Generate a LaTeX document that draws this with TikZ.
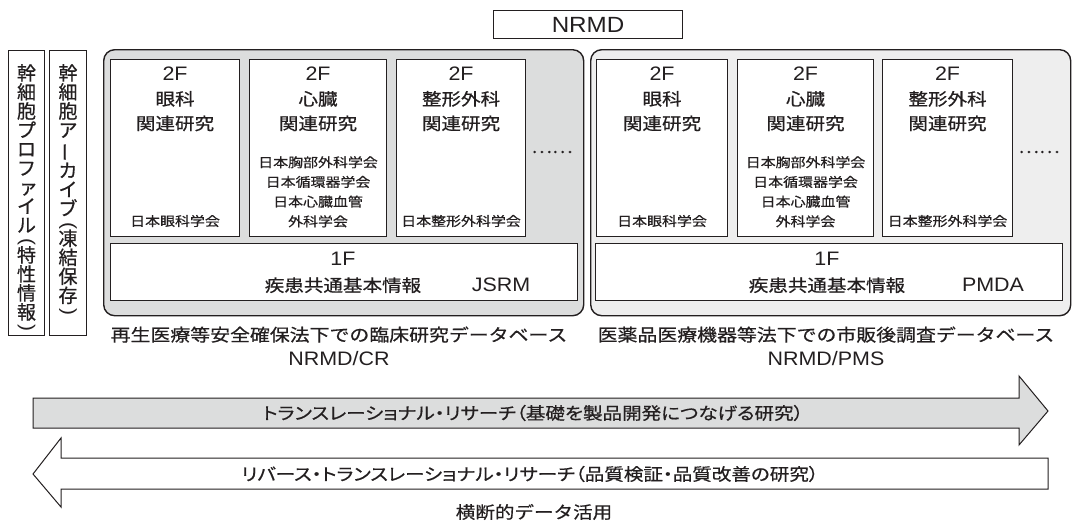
\documentclass[tikz,border=0pt]{standalone}
\usepackage{fontspec}
\usepackage{graphicx}
\setmainfont{Noto Sans CJK JP}[FakeStretch=1.15,FakeBold=0.6]
\newfontfamily\lat{Liberation Sans}[FakeStretch=1.1]
\newfontfamily\jpp{Noto Sans CJK JP}[FakeStretch=1.15,RawFeature=+palt,FakeBold=0.6]
\newfontfamily\jpv{Noto Sans CJK JP}[FakeBold=0.6]
\definecolor{ink}{HTML}{231F20}
\definecolor{lgA}{HTML}{DCDDDD}
\definecolor{lgB}{HTML}{EEEEEE}
\newcommand{\LF}[1]{{\lat\fontsize{19.5}{24.5}\selectfont #1}}
\newcommand{\vpar}[1]{\rotatebox[origin=c]{-90}{\lat #1}}
\newcommand{\vbar}{\rotatebox[origin=c]{90}{ー}}
\newcommand{\sk}[1]{\makebox[1em][l]{\hspace{0.1em}#1}}
\tikzset{
  outerbox/.style={draw=ink, line width=1.4pt, rounded corners=11pt, anchor=north west, inner sep=0pt},
  ibox/.style={draw=ink, line width=1.1pt, fill=white, anchor=north west, inner sep=0pt},
  vbox/.style={draw=ink, line width=1pt, fill=white, anchor=north west, inner sep=0pt, minimum height=285pt},
  ttl/.style={font=\fontsize{17}{24.5}\selectfont, align=center, inner sep=0pt, text=ink, anchor=north},
  sml/.style={font=\fontsize{13}{19.7}\selectfont, align=center, inner sep=0pt, text=ink},
  vtext/.style={font=\jpv\fontsize{19}{19}\selectfont, align=center, inner sep=0pt, text=ink, anchor=north},
  captxt/.style={font=\fontsize{17.3}{24}\selectfont, align=center, inner sep=0pt, text=ink},
  arrtxt/.style={font=\jpp\fontsize{17}{20}\selectfont, inner sep=0pt, text=ink},
  arr/.style={draw=ink, line width=1pt},
}
\begin{document}
\begin{tikzpicture}[x=1pt,y=-1pt]
\useasboundingbox (0,0) rectangle (1072,523);

% NRMD
\node[ibox, minimum width=189pt, minimum height=28pt] (nrmd) at (493,10) {};
\node[inner sep=0pt, text=ink, font=\lat\fontsize{22}{24}\selectfont] (nrmdt) at (nrmd.center) {NRMD};

% vertical boxes
\node[vbox, minimum width=36pt] (vb1) at (8,50) {};
\node[vbox, minimum width=37pt] (vb2) at (49,50) {};
\node[vtext] (vt1) at (vb1.north |- 0,64) {幹\\細\\胞\\プ\\ロ\\フ\\\sk{ァ}\\イ\\ル\\[-4pt]\vpar(\\[-4pt]特\\性\\情\\報\\[-5pt]\vpar)};
\node[vtext] (vt2) at (vb2.north |- 0,64) {幹\\細\\胞\\ア\\\vbar\\カ\\イ\\ブ\\[-4pt]\vpar(\\[-4pt]凍\\結\\保\\存\\[-5pt]\vpar)};

% outer rounded boxes
\node[outerbox, fill=lgA, minimum width=480pt, minimum height=266pt] (L) at (103,49) {};
\node[outerbox, fill=lgB, minimum width=480pt, minimum height=266pt] (R) at (590,49) {};

% left inner boxes
\node[ibox, minimum width=129pt, minimum height=177pt] (L1) at (110,59) {};
\node[ibox, minimum width=137pt, minimum height=177pt] (L2) at (249,59) {};
\node[ibox, minimum width=129pt, minimum height=177pt] (L3) at (396,59) {};
\node[ibox, minimum width=467pt, minimum height=57pt] (L4) at (110,243) {};
% right inner boxes
\node[ibox, minimum width=131pt, minimum height=177pt] (R1) at (596,59) {};
\node[ibox, minimum width=136pt, minimum height=177pt] (R2) at (737,59) {};
\node[ibox, minimum width=130pt, minimum height=177pt] (R3) at (882,59) {};
\node[ibox, minimum width=467pt, minimum height=57pt] (R4) at (595,243) {};

% left texts
\node[ttl] (L1t) at (L1.north |- 0,67) {\LF{2F}\\眼科\\関連研究};
\node[ttl] (L2t) at (L2.north |- 0,67) {\LF{2F}\\心臓\\関連研究};
\node[ttl] (L3t) at (L3.north |- 0,67) {\LF{2F}\\整形外科\\関連研究};
\node[sml] (L1s) at (L1.north |- 0,221) {日本眼科学会};
\node[sml, anchor=north] (L2s) at (L2.north |- 0,156) {日本胸部外科学会\\日本循環器学会\\日本心臓血管\\外科学会};
\node[sml] (L3s) at (L3.north |- 0,221) {日本整形外科学会};
\node[font=\fontsize{17}{20}\selectfont, inner sep=0pt, text=ink] (Ld) at (552,152) {……};
\node[ttl, font=\fontsize{17}{26}\selectfont] (L4t) at (343,252) {\LF{1F}\\疾患共通基本情報};
\node[inner sep=0pt, text=ink, font=\lat\fontsize{19.5}{22}\selectfont] (L4j) at (501,285) {JSRM};

% right texts
\node[ttl] (R1t) at (R1.north |- 0,67) {\LF{2F}\\眼科\\関連研究};
\node[ttl] (R2t) at (R2.north |- 0,67) {\LF{2F}\\心臓\\関連研究};
\node[ttl] (R3t) at (R3.north |- 0,67) {\LF{2F}\\整形外科\\関連研究};
\node[sml] (R1s) at (R1.north |- 0,221) {日本眼科学会};
\node[sml, anchor=north] (R2s) at (R2.north |- 0,156) {日本胸部外科学会\\日本循環器学会\\日本心臓血管\\外科学会};
\node[sml] (R3s) at (R3.north |- 0,221) {日本整形外科学会};
\node[font=\fontsize{17}{20}\selectfont, inner sep=0pt, text=ink] (Rd) at (1039,152) {……};
\node[ttl, font=\fontsize{17}{26}\selectfont] (R4t) at (827,252) {\LF{1F}\\疾患共通基本情報};
\node[inner sep=0pt, text=ink, font=\lat\fontsize{19.5}{22}\selectfont] (R4j) at (993,285) {PMDA};

% captions
\node[captxt] (Lc) at (339,346) {再生医療等安全確保法下での臨床研究データベース\\{\lat\fontsize{19.5}{24}\selectfont NRMD/CR}};
\node[captxt] (Rc) at (826,346) {医薬品医療機器等法下での市販後調査データベース\\{\lat\fontsize{19.5}{24}\selectfont NRMD/PMS}};

% arrows
\draw[arr, fill=lgA] (33,398) -- (1019,398) -- (1019,376) -- (1048,411) -- (1019,445) -- (1019,428) -- (33,428) -- cycle;
\node[arrtxt] (a1) at (533,413) {トランスレーショナル・リサーチ（基礎を製品開発につなげる研究）};
\draw[arr, fill=white] (1048,458) -- (61,458) -- (61,438) -- (33,474) -- (61,507) -- (61,489) -- (1048,489) -- cycle;
\node[arrtxt] (a2) at (530,474) {リバース・トランスレーショナル・リサーチ（品質検証・品質改善の研究）};
\node[font=\fontsize{17}{20}\selectfont, inner sep=0pt, text=ink] (yd) at (534,512) {横断的データ活用};
\end{tikzpicture}
\end{document}
